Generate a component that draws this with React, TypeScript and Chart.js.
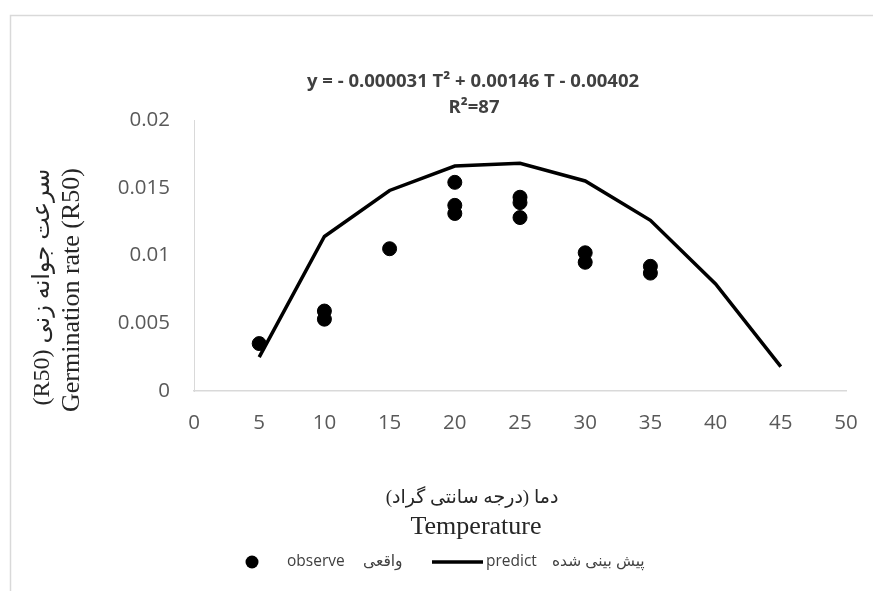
import React, { useEffect, useRef } from 'react';
import { Chart, registerables } from 'chart.js';

Chart.register(...registerables);

// ---- data ----
const observeTemp = [5, 10, 10, 15, 20, 20, 20, 25, 25, 25, 30, 30, 35, 35];
const observeRate = [0.0035, 0.0059, 0.0053, 0.0105, 0.0154, 0.0137, 0.0131, 0.0143, 0.0139, 0.0128, 0.0102, 0.0095, 0.0092, 0.0087];
const predictTemp = [5, 10, 15, 20, 25, 30, 35, 40, 45];
const predictRate = [0.0025, 0.0114, 0.0148, 0.0166, 0.0168, 0.0155, 0.0126, 0.0079, 0.0018];
const xTicks = [0, 5, 10, 15, 20, 25, 30, 35, 40, 45, 50];
const yTicks = [0, 0.005, 0.01, 0.015, 0.02];
const yTickLabels = ['0', '0.005', '0.01', '0.015', '0.02'];
const equationLines = ['y = - 0.000031 T\u00B2 + 0.00146 T - 0.00402', 'R\u00B2=87'];
const xTitleLines = ['\u202Bدما (درجه سانتی گراد)\u202C', 'Temperature'];
const yTitleLines = ['(R50) سرعت جوانه زنی', 'Germination rate (R50)'];
const legendObserve = ['observe', 'واقعی'];
const legendPredict = ['predict', 'پیش بینی شده'];

const SANS = '"Open Sans", "DejaVu Sans", sans-serif';
const SERIF = '"Liberation Serif", "DejaVu Sans", serif';

const decorPlugin = {
  id: 'decor',
  beforeDraw(chart: any) {
    const ctx = chart.ctx;
    ctx.save();
    ctx.strokeStyle = '#d9d9d9';
    ctx.lineWidth = 1.5;
    ctx.beginPath();
    ctx.moveTo(10.5, 600);
    ctx.lineTo(10.5, 15.5);
    ctx.lineTo(880, 15.5);
    ctx.stroke();
    ctx.restore();
  },
  afterDraw(chart: any) {
    const ctx = chart.ctx;
    ctx.save();
    // equation
    ctx.fillStyle = '#404040';
    ctx.textAlign = 'center';
    ctx.textBaseline = 'middle';
    ctx.font = `bold 18.5px ${SANS}`;
    ctx.fillText(equationLines[0], 473, 82);
    ctx.fillText(equationLines[1], 474, 108);

    // x title
    ctx.fillStyle = '#262626';
    ctx.font = `19px ${SERIF}`;
    ctx.fillText(xTitleLines[0], 472, 498);
    ctx.font = `26px ${SERIF}`;
    ctx.fillText(xTitleLines[1], 476, 527);

    // y title
    ctx.save();
    ctx.translate(43, 287);
    ctx.rotate(-Math.PI / 2);
    ctx.font = `24px ${SERIF}`;
    ctx.fillText(yTitleLines[0], 0, 0);
    ctx.restore();
    ctx.save();
    ctx.translate(72, 290);
    ctx.rotate(-Math.PI / 2);
    ctx.font = `26px ${SERIF}`;
    ctx.fillText(yTitleLines[1], 0, 0);
    ctx.restore();

    // legend
    const ly = 562;
    ctx.fillStyle = '#000';
    ctx.beginPath();
    ctx.arc(252, ly, 6.5, 0, Math.PI * 2);
    ctx.fill();
    ctx.strokeStyle = '#000';
    ctx.lineWidth = 3.5;
    ctx.beginPath();
    ctx.moveTo(432, ly);
    ctx.lineTo(483, ly);
    ctx.stroke();
    ctx.fillStyle = '#404040';
    ctx.textAlign = 'left';
    ctx.font = `15.5px ${SANS}`;
    ctx.fillText(legendObserve[0], 287, ly);
    ctx.fillText(legendObserve[1], 363, ly);
    ctx.fillText(legendPredict[0], 486, ly);
    ctx.fillText(legendPredict[1], 552, ly);
    ctx.restore();
  },
};

export default function App() {
  const ref = useRef<HTMLCanvasElement>(null);
  useEffect(() => {
    if (!ref.current) return;
    const chart = new Chart(ref.current, {
      type: 'scatter',
      data: {
        datasets: [
          {
            label: 'observe',
            data: observeTemp.map((t, i) => ({ x: t, y: observeRate[i] })),
            backgroundColor: '#000',
            borderColor: '#000',
            pointRadius: 7,
            pointBorderWidth: 1,
            showLine: false,
          },
          {
            label: 'predict',
            data: predictTemp.map((t, i) => ({ x: t, y: predictRate[i] })),
            borderColor: '#000',
            backgroundColor: '#000',
            borderWidth: 3.5,
            pointRadius: 0,
            showLine: true,
            tension: 0,
          },
        ],
      },
      options: {
        responsive: false,
        animation: false,
        layout: { padding: { left: 0, top: 120, right: 27, bottom: 0 } },
        plugins: { legend: { display: false }, tooltip: { enabled: false }, title: { display: false } },
        scales: {
          x: {
            type: 'linear',
            min: 0,
            max: 50,
            afterBuildTicks: (s: any) => { s.ticks = xTicks.map((v) => ({ value: v })); },
            afterFit: (s: any) => { s.height = 200; s.paddingLeft = 0; s.paddingRight = 0; },
            grid: { display: false, drawTicks: false },
            border: { display: true, color: '#d9d9d9', width: 1.5 },
            ticks: { color: '#595959', font: { family: SANS, size: 20.5 }, padding: 20, maxRotation: 0, autoSkip: false },
          },
          y: {
            type: 'linear',
            min: 0,
            max: 0.02,
            afterBuildTicks: (s: any) => { s.ticks = yTicks.map((v) => ({ value: v })); },
            afterFit: (s: any) => { s.width = 194; },
            grid: { display: false, drawTicks: false },
            border: { display: true, color: '#d9d9d9', width: 1 },
            ticks: {
              color: '#595959',
              font: { family: SANS, size: 20.5 },
              padding: 24,
              autoSkip: false,
              callback: (v: any) => {
                const i = yTicks.findIndex((t) => Math.abs(t - v) < 1e-9);
                return i >= 0 ? yTickLabels[i] : '';
              },
            },
          },
        },
      },
      plugins: [decorPlugin],
    });
    return () => chart.destroy();
  }, []);
  return (
    <div style={{ position: 'fixed', left: 0, top: 0, width: 873, height: 591, background: '#fff' }}>
      <canvas ref={ref} width={873} height={591} style={{ display: 'block' }} />
    </div>
  );
}
